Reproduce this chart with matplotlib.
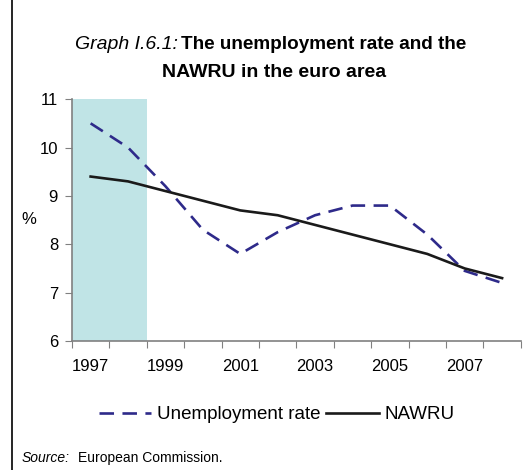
import matplotlib.pyplot as plt
from matplotlib.lines import Line2D

plt.rcParams['font.family'] = ['Liberation Sans', 'DejaVu Sans']

years = [1997, 1998, 1999, 2000, 2001, 2002, 2003, 2004, 2005, 2006, 2007, 2008]
unemployment = [10.5, 10.0, 9.2, 8.3, 7.8, 8.25, 8.6, 8.8, 8.8, 8.2, 7.45, 7.2]
nawru = [9.4, 9.3, 9.1, 8.9, 8.7, 8.6, 8.4, 8.2, 8.0, 7.8, 7.5, 7.3]
shade_years = [1997, 1998]

x = list(range(len(years)))

fig = plt.figure(figsize=(5.25, 4.7), dpi=100)
ax = fig.add_axes([0.137, 0.2745, 0.855, 0.5145])

ax.axvspan(years.index(shade_years[0]) - 0.5, years.index(shade_years[-1]) + 0.5,
           color='#c0e4e6', lw=0, zorder=0)
ax.plot(x, unemployment, color='#2e2a8a', lw=1.9, dashes=(5.5, 3.2), label='Unemployment rate')
ax.plot(x, nawru, color='#1a1a1a', lw=1.9, label='NAWRU')

ax.set_xlim(-0.5, len(years) - 0.5)
ax.set_ylim(6, 11)
ax.set_yticks([6, 7, 8, 9, 10, 11])
ax.set_xticks([i - 0.5 for i in range(len(years) + 1)])
ax.set_xticklabels([])
ax.set_xticks(x[::2], minor=True)
ax.set_xticklabels([str(y) for y in years[::2]], minor=True)
ax.tick_params(axis='x', which='minor', length=0, pad=13, labelsize=12)
ax.tick_params(axis='x', which='major', length=5, color='#808080', direction='out')
ax.tick_params(axis='y', length=5, color='#808080', direction='out', labelsize=12, pad=5)

for s in ['top', 'right']:
    ax.spines[s].set_visible(False)
for s in ['left', 'bottom']:
    ax.spines[s].set_color('#808080')
    ax.spines[s].set_linewidth(1.2)

fig.text(0.055, 0.532, '%', fontsize=12, ha='center', va='center')

fig.text(75 / 525, 0.905, 'Graph I.6.1:', fontsize=14, style='italic', ha='left', va='center')
fig.text(181 / 525, 0.905, 'The unemployment rate and the', fontsize=13.6, weight='bold',
         ha='left', va='center')
fig.text(274 / 525, 0.846, 'NAWRU in the euro area', fontsize=14, weight='bold',
         ha='center', va='center')

handles = [Line2D([], [], color='#2e2a8a', lw=1.9, dashes=(5.5, 3.2)),
           Line2D([], [], color='#1a1a1a', lw=1.9)]
fig.legend(handles, ['Unemployment rate', 'NAWRU'], loc='center', bbox_to_anchor=(0.527, 0.118),
           ncol=2, frameon=False, fontsize=13.5, handlelength=2.8, columnspacing=0.3,
           handletextpad=0.3)

fig.text(0.042, 0.026, 'Source:', fontsize=10, style='italic', ha='left', va='center')
fig.text(78 / 525, 0.026, 'European Commission.', fontsize=10, ha='left', va='center')

fig.add_artist(Line2D([0.023, 0.023], [0, 1], color='black', lw=1.2))

plt.savefig('out.png')
